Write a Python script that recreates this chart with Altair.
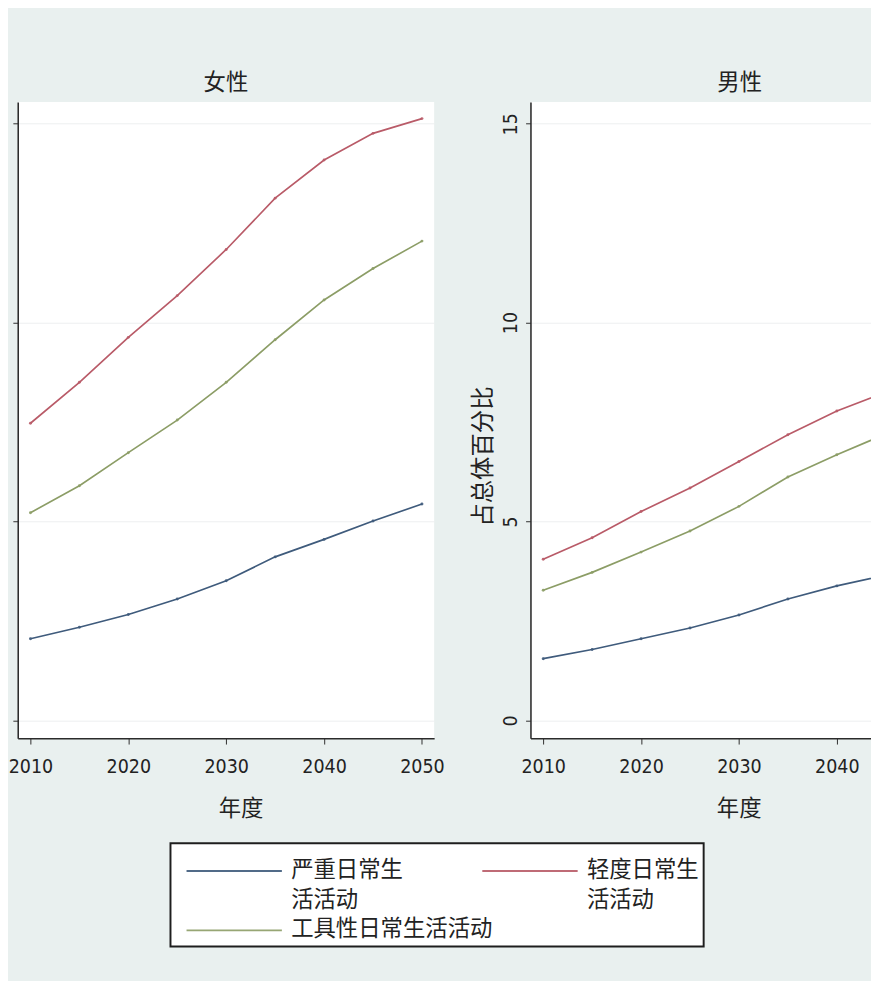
import altair as alt
import pandas as pd

years = [2010, 2015, 2020, 2025, 2030, 2035, 2040, 2045, 2050]
series_names = ["严重日常生活活动", "轻度日常生活活动", "工具性日常生活活动"]
series_colors = ["#3f5b7c", "#b95b68", "#8c9d66"]

female_severe = [2.05, 2.34, 2.66, 3.05, 3.51, 4.11, 4.55, 5.01, 5.44]
female_mild = [7.47, 8.50, 9.63, 10.68, 11.84, 13.13, 14.09, 14.76, 15.13]
female_iadl = [5.22, 5.90, 6.73, 7.55, 8.50, 9.57, 10.57, 11.36, 12.05]

male_severe = [1.55, 1.78, 2.05, 2.32, 2.65, 3.05, 3.38, 3.65, 3.95]
male_mild = [4.05, 4.59, 5.25, 5.84, 6.51, 7.18, 7.78, 8.25, 8.60]
male_iadl = [3.27, 3.72, 4.23, 4.76, 5.38, 6.12, 6.68, 7.20, 7.60]

panel_titles = ["女性", "男性"]
x_title = "年度"
y_title = "占总体百分比"
x_ticks = [2010, 2020, 2030, 2040, 2050]
y_ticks = [0, 5, 10, 15]


def frame(sev, mild, iadl):
    rows = []
    for name, vals in zip(series_names, [sev, mild, iadl]):
        for yr, v in zip(years, vals):
            rows.append({"年度": yr, "value": v, "series": name})
    return pd.DataFrame(rows)


CJK = "Noto Sans CJK SC"
NUM = "Liberation Sans Narrow, DejaVu Sans Condensed, Liberation Sans"

legend = alt.Legend(
    title=None,
    orient="none",
    legendX=157,
    legendY=762,
    direction="horizontal",
    columns=2,
    gridAlign="none",
    columnPadding=-22,
    rowPadding=-5,
    padding=5,
    fillColor="white",
    strokeColor="#1e1e1e",
    symbolType="M-4.9,1.2H4.9",
    symbolSize=400,
    symbolStrokeWidth=2,
    symbolOffset=49,
    labelOffset=47,
    labelBaseline="top",
    labelFont=CJK,
    labelFontSize=23,
    labelColor="#222222",
    labelLimit=400,
    labelExpr="length(datum.label) == 8 ? [substring(datum.label, 0, 5), substring(datum.label, 5)] : datum.label",
)

color = alt.Color(
    "series:N",
    scale=alt.Scale(domain=series_names, range=series_colors),
    legend=legend,
)

y_dom = [-0.45, 15.55]
x_min = 2008.7
px_per_year = 10.06
left_w = 428
right_w = 350


def panel(df, title, left, width, title_dx, x_title_x):
    if left:
        yaxis = alt.Axis(values=y_ticks, labels=False, title=None, tickSize=5,
                         domainColor="#2b2b2b", tickColor="#2b2b2b", domainWidth=1.6,
                         gridColor="#eceff0")
    else:
        yaxis = alt.Axis(values=y_ticks, title=y_title, tickSize=5,
                         labelAngle=270, labelAlign="center", labelBaseline="bottom",
                         labelPadding=5, labelFont=NUM, labelFontSize=20,
                         labelColor="#222222",
                         titleFont=CJK, titleFontSize=24, titleFontWeight="normal",
                         titleColor="#222222", titlePadding=6, titleY=364,
                         domainColor="#2b2b2b", tickColor="#2b2b2b", domainWidth=1.6,
                         gridColor="#eceff0")
    xaxis = alt.Axis(values=x_ticks, format="d", title=x_title, tickSize=6,
                     labelFlush=False, labelPadding=13, labelFont=NUM, labelFontSize=20,
                     labelColor="#222222",
                     titleFont=CJK, titleFontSize=23, titleFontWeight="normal",
                     titleColor="#222222", titlePadding=22, titleX=x_title_x,
                     domainColor="#2b2b2b", tickColor="#2b2b2b", domainWidth=1.6,
                     grid=False)
    x_max = x_min + width / px_per_year
    base = alt.Chart(df).mark_line(
        strokeWidth=1.7, clip=True,
        point=alt.OverlayMarkDef(size=9, filled=True, opacity=0.9, clip=True),
    ).encode(
        x=alt.X("年度:Q", scale=alt.Scale(domain=[x_min, x_max], nice=False, zero=False), axis=xaxis),
        y=alt.Y("value:Q", scale=alt.Scale(domain=y_dom, nice=False, zero=False), axis=yaxis),
        color=color,
        order="年度:Q",
    ).properties(
        width=width,
        height=654,
        title=alt.TitleParams(title, font=CJK, fontSize=23, fontWeight="normal",
                              color="#222222", anchor="middle", baseline="bottom",
                              offset=-16, dx=title_dx),
    )
    return base


left = panel(frame(female_severe, female_mild, female_iadl), panel_titles[0], True, left_w, 0, 229)
right = panel(frame(male_severe, male_mild, male_iadl), panel_titles[1], False, right_w, 40, 214)

chart = alt.hconcat(left, right, spacing=28).resolve_scale(color="shared").properties(
    padding={"left": 0, "top": 53, "right": 0, "bottom": 21},
    background="#e9f0ef",
).configure(
    style={"guide-label": {"lineHeight": 31}}
).configure_view(fill="white", stroke=None).configure_legend(strokeWidth=2)

chart.save("out.html", embed_options={"renderer": "svg", "actions": False})
